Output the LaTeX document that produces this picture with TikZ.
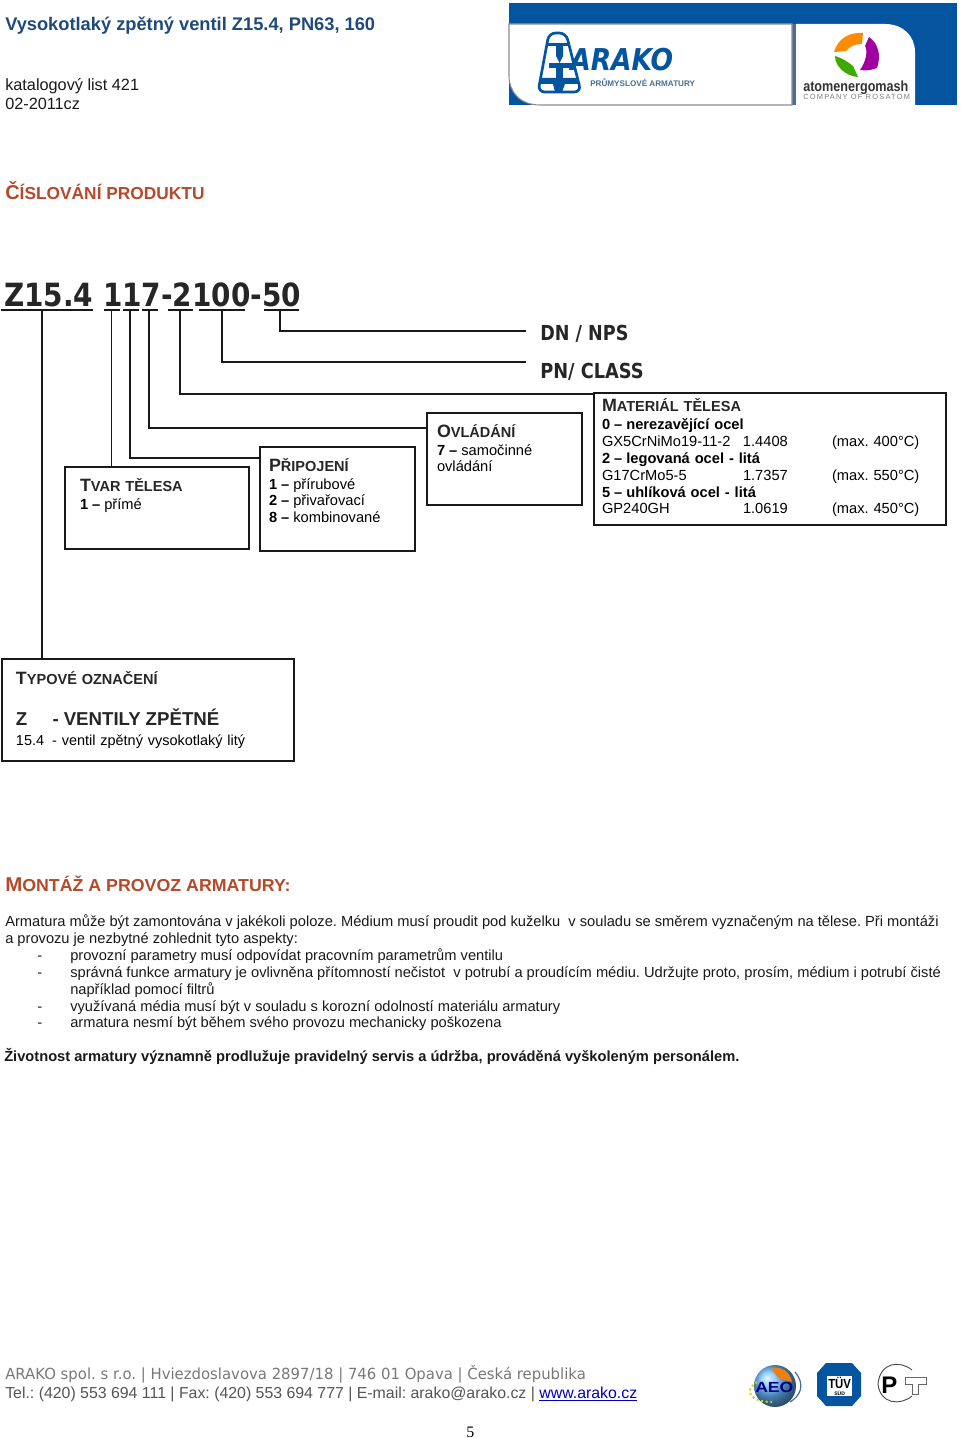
\documentclass[tikz,border=0pt]{standalone}
\usepackage{fontspec}
\usepackage{tikz}
\usetikzlibrary{calc}
\setmainfont{Liberation Sans}
\newfontfamily\codefont{DejaVu Sans}
\newfontfamily\pagefont{Liberation Serif}
\definecolor{titleblue}{RGB}{31,73,125}
\definecolor{headrust}{RGB}{181,73,42}
\definecolor{bandblue}{RGB}{4,84,160}
\definecolor{steelblue}{RGB}{70,110,150}
\definecolor{footgrey}{RGB}{120,120,120}
\definecolor{linkblue}{RGB}{0,0,190}
\frenchspacing
\newcommand{\body}{\fontsize{11}{12.7}\selectfont}
\newcommand{\boxhead}[2]{{\fontsize{13.4}{12.7}\selectfont\bfseries\color{black!85}#1}{\fontsize{10.9}{12.7}\selectfont\bfseries\color{black!85}#2}}
\newcommand{\redhead}[2]{{\fontsize{15}{16}\selectfont\bfseries #1}{\fontsize{13}{16}\selectfont\bfseries #2}}
\newcommand{\itemnum}[1]{\textbf{#1\hspace{3pt}–}\hspace{3pt}}

\begin{document}
\begin{tikzpicture}[
  x=0.75pt, y=-0.75pt,
  box/.style={draw=black!90, line width=1.4pt, anchor=north west, inner sep=0pt, outer sep=0pt, align=left, font=\body},
  conn/.style={line width=1.1pt, black!90},
  txt/.style={anchor=base west, inner sep=0pt, font=\body, text=black!90},
  code/.style={anchor=base west, inner sep=0pt, text=black!85},
]
\useasboundingbox (0,0) rectangle (960,1438);

% ---- header ----
\node[txt, font=\fontsize{13.7}{16}\selectfont\bfseries, text=titleblue] (title) at (5,31)
  {Vysokotlaký zpětný ventil Z15.4, PN63, 160};
\node[txt, font=\fontsize{12.2}{14}\selectfont] (sheet) at (5,90) {katalogový list 421};
\node[txt, font=\fontsize{12.2}{14}\selectfont] (issue) at (5,109) {02-2011cz};

% ---- logo band ----
\fill[bandblue] (509,3) rectangle (957,105);
\fill[steelblue] (792,24) rectangle (796,105);
\fill[white, draw=black!45, line width=0.8pt] (509,24) -- (792,24) -- (792,105) -- (540,105)
  .. controls (520,105) and (509,92) .. (509,76) -- cycle;
\fill[white] (796,24) -- (885,24) .. controls (903,24) and (915,36) .. (915,52) -- (915,105) -- (796,105) -- cycle;
% valve mark
\draw[bandblue, line width=2pt, rounded corners=5pt, fill=white]
  (549,33) -- (566,33) -- (581,92) -- (538,92) -- cycle;
\fill[bandblue] (548,43) rectangle (570,46);
\fill[bandblue] (556,46) -- (563,46) -- (563,56) -- (559.5,63) -- (556,56) -- cycle;
\fill[bandblue] (549,63) rectangle (573,68);
\fill[bandblue] (556,68) rectangle (563,80);
\fill[bandblue] (541,78) -- (578,78) -- (580,84) -- (565,84) -- (562,92) -- (555,92) -- (553,84) -- (540,84) -- cycle;
\node[code, font=\codefont\fontsize{20.5}{24}\selectfont\bfseries\itshape, text=bandblue] (arako) at (570,71) {\scalebox{.97}[1.1]{ARAKO}};
\node[code, font=\fontsize{6.1}{7}\selectfont\bfseries, text=steelblue] (armatury) at (590,86) {PRŮMYSLOVÉ ARMATURY};
% rosatom mark
\fill[orange!90!yellow] (834,52) .. controls (838,38) and (850,32) .. (863,33)
  -- (862,44) .. controls (855,44) and (850,46) .. (846,51) -- cycle;
\fill[violet!75!magenta] (869,37) .. controls (879,44) and (881,56) .. (877,68)
  .. controls (872,70) and (866,71) .. (860,70) .. controls (866,62) and (868,50) .. (865,46) -- cycle;
\fill[green!55!black!75!yellow] (835,56) .. controls (835,66) and (845,76) .. (858,77)
  -- (853,66) .. controls (848,62) and (842,58) .. (835,56) -- cycle;
\node[code, font=\fontsize{11}{12}\selectfont\bfseries, text=black!80] (atom) at (803,91) {\scalebox{.86}[1]{atomenergomash}};
\node[code, font=\fontsize{5.6}{6}\selectfont, text=black!50] (rosatom) at (803,99) {\addfontfeature{LetterSpace=16}COMPANY OF ROSATOM};

% ---- product number ----
\node[code, text=headrust] (numbering) at (5,199)
  {\redhead{Č}{ÍSLOVÁNÍ PRODUKTU}};
\node[code, font=\codefont\bfseries\fontsize{24}{26}\selectfont] (number) at (4,306)
  {\scalebox{.872}[1]{Z15.4 117-2100-50}};
\foreach \nm/\xa/\xb/\xc in {uZ/1/93/42, uT/104/120/111.5, uP/123/139/130, uO/142/158/149,
  uM/168/193/180, uPN/199/245/222, uDN/264/299/280}
{
  \draw[conn] (\xa,310) -- (\xb,310);
  \coordinate (\nm) at (\xc,310);
}
\node[code, font=\codefont\bfseries\fontsize{15.5}{17}\selectfont] (dn) at (540,340) {\scalebox{.85}[1]{DN / NPS}};
\node[code, font=\codefont\bfseries\fontsize{15.5}{17}\selectfont] (pn) at (540,378) {\scalebox{.86}[1]{PN/ CLASS}};
\coordinate (dnend) at (526,331);
\coordinate (pnend) at (526,362);

% ---- option boxes ----
\node[box, inner xsep=11.25pt, text width=115.5pt, text height=18pt, text depth=43.5pt] (tvar) at (65,467)
  {\boxhead{T}{VAR TĚLESA}\\[1pt] \itemnum{1}přímé};
\node[box, inner xsep=6.75pt, text width=102.75pt, text height=18pt, text depth=60pt] (pripojeni) at (260,447)
  {\boxhead{P}{ŘIPOJENÍ}\\[0.8pt] \itemnum{1}přírubové\\ \itemnum{2}přivařovací\\ \itemnum{8}kombinované};
\node[box, inner xsep=7.5pt, text width=101.25pt, text height=18pt, text depth=51pt] (ovladani) at (427,413)
  {\boxhead{O}{VLÁDÁNÍ}\\[0.8pt] \itemnum{7}samočinné\\ ovládání};
\node[box, inner xsep=6pt, text width=252pt, text height=13.5pt, text depth=85.5pt] (material) at (594,393)
  {\boxhead{M}{ATERIÁL TĚLESA}\\[1pt]
   \itemnum{0}\textbf{nerezavějící ocel}\\
   \makebox[105.75pt][l]{GX5CrNiMo19-11-2}\makebox[66.75pt][l]{1.4408}(max. 400°C)\\
   \itemnum{2}\textbf{legovaná ocel - litá}\\
   \makebox[105.75pt][l]{G17CrMo5-5}\makebox[66.75pt][l]{1.7357}(max. 550°C)\\
   \itemnum{5}\textbf{uhlíková ocel - litá}\\
   \makebox[105.75pt][l]{GP240GH}\makebox[66.75pt][l]{1.0619}(max. 450°C)};
\node[box, inner xsep=10.5pt, text width=198pt, text height=18.75pt, text depth=57.75pt,
      font=\fontsize{10.85}{15}\selectfont] (typove) at (2,659)
  {\boxhead{T}{YPOVÉ OZNAČENÍ}\\[15.75pt]
   {\fontsize{14}{15}\selectfont\bfseries\color{black!85}Z\hspace{19pt}- VENTILY ZPĚTNÉ}\\
   15.4\hspace{6pt}- ventil zpětný vysokotlaký litý};

% ---- connectors ----
\draw[conn] (uZ) -- (uZ |- typove.north);
\draw[conn] (uT) -- (uT |- tvar.north);
\draw[conn] (uP) |- ($(pripojeni.north west)+(0,11)$);
\draw[conn] (uO) |- ($(ovladani.north west)+(0,15)$);
\draw[conn] (uM) |- ($(material.north west)+(0,1)$);
\draw[conn] (uPN) |- (pnend);
\draw[conn] (uDN) |- (dnend);

% ---- mounting text ----
\node[code, text=headrust] (mounting) at (5,891) {\scalebox{1.025}[1]{\redhead{M}{ONTÁŽ A PROVOZ ARMATURY:}}};
\node[txt] (line1) at (5,926) {Armatura může být zamontována v jakékoli poloze. Médium musí proudit pod kuželku\ \ v souladu se směrem vyznačeným na tělese. Při montáži};
\node[txt] (line2) at (5,943) {a provozu je nezbytné zohlednit tyto aspekty:};
\node[txt] (dash1) at (37,960) {-};
\node[txt] (line3) at (70,960) {provozní parametry musí odpovídat pracovním parametrům ventilu};
\node[txt] (dash2) at (37,977) {-};
\node[txt] (line4) at (70,977) {správná funkce armatury je ovlivněna přítomností nečistot\ \ v potrubí a proudícím médiu. Udržujte proto, prosím, médium i potrubí čisté};
\node[txt] (line5) at (70,994) {například pomocí filtrů};
\node[txt] (dash3) at (37,1011) {-};
\node[txt] (line6) at (70,1011) {využívaná média musí být v souladu s korozní odolností materiálu armatury};
\node[txt] (dash4) at (37,1027) {-};
\node[txt] (line7) at (70,1027) {armatura nesmí být během svého provozu mechanicky poškozena};
\node[txt, font=\body\bfseries] (service) at (4,1061) {Životnost armatury významně prodlužuje pravidelný servis a údržba, prováděná vyškoleným personálem.};

% ---- footer ----
\node[code, font=\codefont\fontsize{11.5}{13}\selectfont, text=footgrey] (address) at (5,1379)
  {\scalebox{.97}[1]{ARAKO spol. s r.o. | Hviezdoslavova 2897/18 | 746 01 Opava | Česká republika}};
\node[code, font=\fontsize{11.9}{13}\selectfont, text=footgrey!70!black] (contact) at (5,1398)
  {Tel.: (420) 553 694 111 | Fax: (420) 553 694 777 | E-mail: arako@arako.cz | \textcolor{linkblue}{\underline{www.arako.cz}}};
\node[code, font=\pagefont\fontsize{12}{13}\selectfont, text=black] (pagenum) at (466,1437) {5};

% aeo, tuv and gost marks
\shade[ball color=cyan!55!blue!60] (775,1386) circle (21);
\fill[orange!70!brown] (771,1368) .. controls (782,1366) and (790,1372) .. (792,1382) -- (778,1378) -- cycle;
\draw[steelblue, line width=0.9pt] (795,1372) .. controls (806,1385) and (800,1396) .. (790,1402);
\draw[yellow!70!olive, dotted, line width=1.5pt] (757,1382) .. controls (742,1392) and (752,1402) .. (772,1402);
\node[code, font=\fontsize{11}{12}\selectfont\bfseries, text=blue!50!black] (aeo) at (755,1392) {\scalebox{1.2}[1]{AEO}};
\fill[bandblue] (826,1363) -- (852,1363) -- (861,1373) -- (861,1396) -- (852,1406) -- (826,1406) -- (817,1396) -- (817,1373) -- cycle;
\fill[white] (827,1376) rectangle (852,1396);
\node[code, font=\fontsize{9}{10}\selectfont\bfseries, text=black] (tuv) at (828,1388) {\scalebox{.95}[1.1]{TÜV}};
\node[code, font=\fontsize{3.8}{4}\selectfont\bfseries, text=black] (sud) at (834,1395) {SÜD};
\draw[black!70, line width=0.7pt] (912,1370) .. controls (900,1360) and (880,1362) .. (878,1384)
  .. controls (880,1404) and (900,1406) .. (912,1396);
\draw[black!60, line width=0.7pt] (912,1377) -- (926,1377) -- (926,1384) -- (918,1384) -- (918,1394) -- (912,1394) -- (912,1384) -- (905,1384) -- (905,1377) -- cycle;
\node[code, font=\fontsize{18}{19}\selectfont\bfseries, text=black] (gost) at (881,1393) {P};

\end{tikzpicture}
\end{document}
